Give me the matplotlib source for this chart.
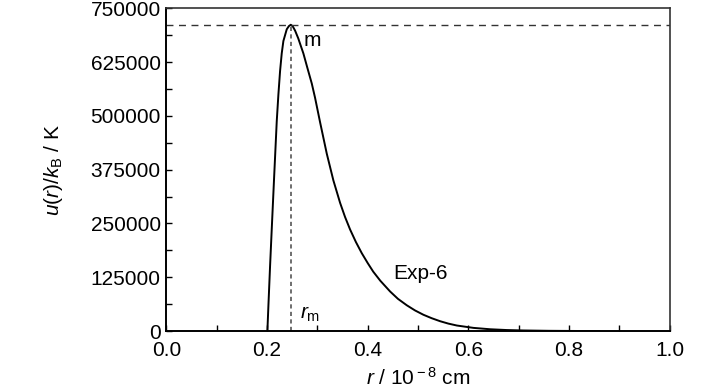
import matplotlib
matplotlib.use('Agg')
import matplotlib.pyplot as plt
from matplotlib.ticker import MultipleLocator

plt.rcParams['font.family'] = ['Liberation Sans', 'DejaVu Sans']
plt.rcParams['mathtext.fontset'] = 'custom'
plt.rcParams['mathtext.rm'] = 'Liberation Sans'
plt.rcParams['mathtext.it'] = 'Liberation Sans:italic'

# Exp-6 curve
r = [0.2007, 0.2027, 0.206, 0.2094, 0.214, 0.2193, 0.2226, 0.2259, 0.2292,
     0.2325, 0.2392, 0.2435, 0.2472, 0.251, 0.2557, 0.262, 0.2722, 0.28,
     0.2889, 0.2954, 0.3054, 0.3187, 0.3318, 0.3451, 0.355, 0.365, 0.3765,
     0.3882, 0.40, 0.411, 0.425, 0.4445, 0.46, 0.4776, 0.494, 0.5106, 0.527,
     0.5438, 0.56, 0.577, 0.61, 0.6432, 0.676, 0.709, 0.76, 0.86]
u = [0, 58000, 150000, 238000, 355000, 487500, 550000, 604000, 645000,
     673800, 701100, 708500, 711500, 708000, 698000, 680000, 645000, 612000,
     575000, 542000, 485000, 412000, 350000, 298000, 265000, 236000, 207000,
     181000, 158000, 138000, 117000, 92000, 75000, 60000, 48000, 38000, 30000,
     23000, 17500, 13000, 7500, 4300, 2500, 1500, 700, 0]

r_m = 0.247
u_m = 712000
y_ticks = [0, 125000, 250000, 375000, 500000, 625000, 750000]

fig = plt.figure(figsize=(7.28, 3.9), dpi=100)
ax = fig.add_axes([0.2285, 0.151, 0.6915, 0.828])

ax.plot(r, u, color='black', lw=1.4)
ax.axhline(u_m, color='#333333', lw=1.0, ls=(0, (5, 4)))
ax.plot([r_m, r_m], [0, u_m], color='#555555', lw=1.2, ls=(0, (2.5, 2)))

ax.text(0.2895, 675000, 'm', fontsize=15, ha='center', va='center')
ax.text(0.286, 38000, r'$r_{\rm m}$', fontsize=15, ha='center', va='center')
ax.text(0.504, 133000, 'Exp-6', fontsize=15, ha='center', va='center')

ax.set_xlim(0, 1.0)
ax.set_ylim(0, 750000)
ax.set_yticks(y_ticks)
ax.set_yticklabels([str(v) for v in y_ticks])
ax.xaxis.set_major_locator(MultipleLocator(0.2))
ax.xaxis.set_minor_locator(MultipleLocator(0.1))
ax.yaxis.set_minor_locator(MultipleLocator(62500))
ax.xaxis.set_major_formatter(plt.FuncFormatter(lambda v, p: '%.1f' % v))

ax.tick_params(which='both', direction='in', top=False, right=False,
               labelsize=15, width=1.0, color='black')
ax.tick_params(which='major', length=4)
ax.tick_params(which='minor', length=4)
ax.tick_params(axis='x', which='major', pad=7)
ax.tick_params(axis='y', which='major', pad=4)

for side in ['left', 'bottom']:
    ax.spines[side].set_linewidth(1.4)
    ax.spines[side].set_color('black')
for side in ['top', 'right']:
    ax.spines[side].set_linewidth(1.2)
    ax.spines[side].set_color('#333333')

ax.set_xlabel(r'$r$ / 10$^{\rm -8}$ cm', fontsize=15, labelpad=5)
ax.set_ylabel(r'$u(r)/k_{\rm B}$ / K', fontsize=15, labelpad=18)

fig.savefig('out.png', dpi=100)
